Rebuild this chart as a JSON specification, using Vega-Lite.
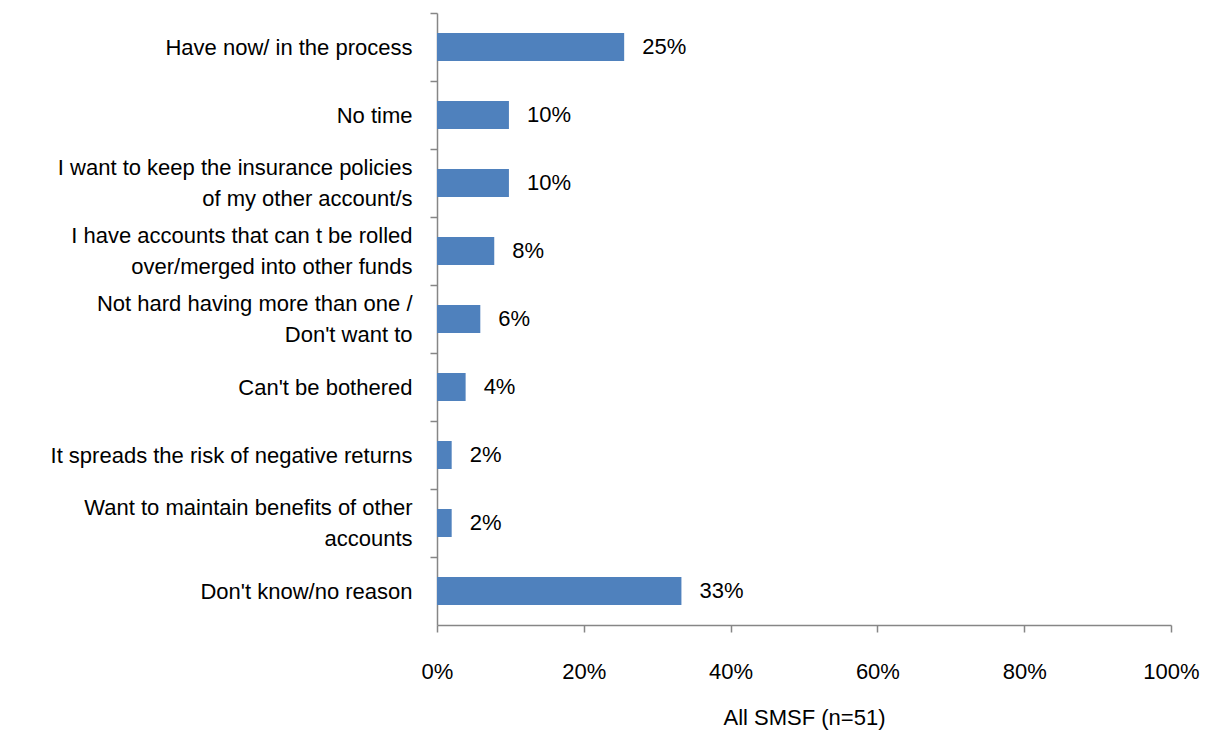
{
  "$schema": "https://vega.github.io/schema/vega-lite/v6.json",
  "width": 734,
  "height": 612,
  "autosize": {"type": "none"},
  "padding": {"left": 437, "top": 13, "right": 34, "bottom": 106},
  "config": {
    "view": {"stroke": null},
    "font": "Liberation Sans",
    "axis": {"labelFont": "Liberation Sans", "titleFont": "Liberation Sans"}
  },
  "data": {
    "values": [
      {"reason": "Have now/ in the process", "value": 0.255, "label": "25%"},
      {"reason": "No time", "value": 0.098, "label": "10%"},
      {"reason": "I want  to keep the insurance policies|of my other account/s", "value": 0.098, "label": "10%"},
      {"reason": "I have accounts that can t be rolled|over/merged into other funds", "value": 0.078, "label": "8%"},
      {"reason": "Not hard having more than one /|Don't want to", "value": 0.059, "label": "6%"},
      {"reason": "Can't be bothered", "value": 0.039, "label": "4%"},
      {"reason": "It spreads the risk of negative returns", "value": 0.02, "label": "2%"},
      {"reason": "Want to maintain  benefits of other|accounts", "value": 0.02, "label": "2%"},
      {"reason": "Don't know/no reason", "value": 0.333, "label": "33%"}
    ]
  },
  "encoding": {
    "y": {
      "field": "reason",
      "type": "nominal",
      "sort": null,
      "scale": {"paddingInner": 0, "paddingOuter": 0},
      "axis": {
        "title": null,
        "labelExpr": "split(datum.label, '|')",
        "labelFontSize": 22,
        "labelColor": "#000000",
        "labelLineHeight": 31,
        "labelPadding": 18,
        "labelLimit": 0,
        "tickSize": 7,
        "tickOffset": -34,
        "labelOffset": {"condition": {"test": "indexof(datum.value, '|') >= 0", "value": 18.5}, "value": 34},
        "tickColor": "#868686",
        "domainColor": "#868686",
        "domainWidth": 1.5,
        "tickWidth": 1.5
      }
    },
    "x": {
      "field": "value",
      "type": "quantitative",
      "scale": {"domain": [0, 1], "nice": false},
      "axis": {
        "title": "All SMSF (n=51)",
        "titleFontSize": 22,
        "titleFontWeight": "normal",
        "titleColor": "#000000",
        "titlePadding": 25,
        "format": ".0%",
        "values": [0, 0.2, 0.4, 0.6, 0.8, 1],
        "labelFontSize": 22,
        "labelColor": "#000000",
        "labelPadding": 29,
        "labelFlush": false,
        "grid": false,
        "tickSize": 7,
        "tickColor": "#868686",
        "domainColor": "#868686",
        "domainWidth": 1.5,
        "tickWidth": 1.5
      }
    }
  },
  "layer": [
    {"mark": {"type": "bar", "color": "#4F81BD", "size": 28}},
    {
      "mark": {"type": "text", "align": "left", "dx": 18, "fontSize": 22, "color": "#000000", "font": "Liberation Sans"},
      "encoding": {"text": {"field": "label"}}
    }
  ]
}
